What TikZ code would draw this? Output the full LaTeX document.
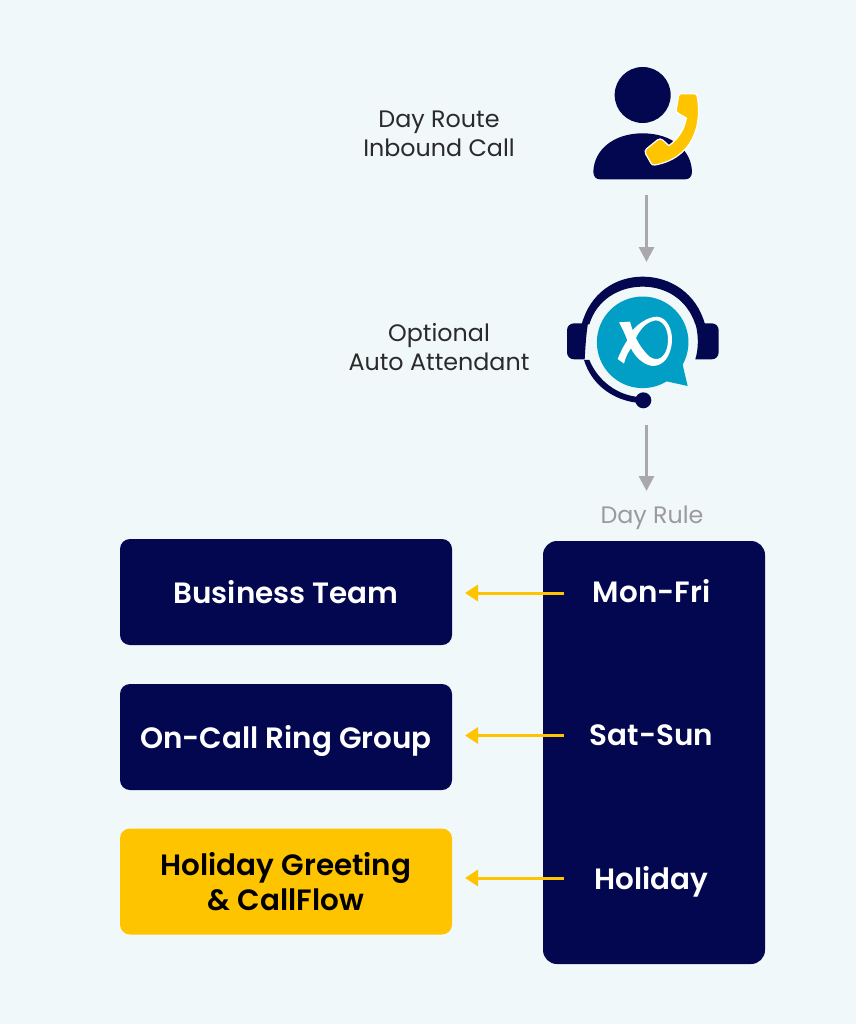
\documentclass[tikz,border=0pt]{standalone}
\usepackage{fontspec}
\setmainfont{Poppins}[BoldFont={Poppins SemiBold}]
\definecolor{bgc}{HTML}{F1F8FA}
\definecolor{navy}{HTML}{03074F}
\definecolor{gold}{HTML}{FFC400}
\definecolor{teal1}{HTML}{019FC6}
\definecolor{grayline}{HTML}{A9A9AD}
\definecolor{graytext}{HTML}{9B9B9B}
\definecolor{ink}{HTML}{2A2A2A}
\usetikzlibrary{arrows.meta}
\tikzset{
  navybox/.style={fill=navy,rounded corners=10pt,minimum width=332pt,minimum height=106pt,text=white,font=\fontsize{29.4}{35}\selectfont\bfseries,align=center,inner sep=0pt},
  goldbox/.style={navybox,fill=gold,text=black},
  dayitem/.style={text=white,font=\fontsize{29.4}{35}\selectfont\bfseries,inner sep=0pt},
  caption/.style={text=ink,font=\fontsize{23.8}{29.5}\selectfont,align=center,inner sep=0pt},
  grayarrow/.style={draw=grayline,line width=3pt,-{Triangle[length=15pt,width=15pt]}},
  goldarrow/.style={draw=gold,line width=3pt,-{Triangle[length=13pt,width=16pt]}},
}
\begin{document}
\begin{tikzpicture}[x=1pt,y=-1pt]
\fill[bgc] (0,0) rectangle (856,1024);
\useasboundingbox (0,0) rectangle (856,1024);
% person icon
\begin{scope}[shift={(550,50)},x=0.3333pt,y=-0.3333pt]
\fill[navy] (278,135) circle[radius=28pt];
\fill[navy] (130,365) .. controls (132,300) and (190,250) .. (278,250)
  .. controls (366,250) and (424,300) .. (426,365)
  .. controls (426,380) and (418,388) .. (405,388) -- (150,388)
  .. controls (138,388) and (130,380) .. (130,365) -- cycle;
\filldraw[fill=gold,draw=white,line width=1.2pt,line join=round]
  (392,131) -- (432,131) .. controls (438,131) and (441,134) .. (442,140)
  .. controls (458,230) and (425,325) .. (315,345)
  .. controls (309,346) and (305,344) .. (303,340) -- (287,312)
  .. controls (284,306) and (285,300) .. (290,296) -- (322,270)
  .. controls (328,266) and (333,266) .. (338,270) -- (357,287)
  .. controls (385,265) and (403,240) .. (409,204) -- (386,191)
  .. controls (380,188) and (378,184) .. (379,178) -- (386,137)
  .. controls (387,133) and (389,131) .. (392,131) -- cycle;
\end{scope}
% caption and arrows
\node[caption] (inbound) at (439,134) {Day Route\\Inbound Call};
\coordinate (call) at (646.5,195);
\coordinate (attendantTop) at (646.5,262);
\draw[grayarrow] (call) -- (attendantTop);
% headset icon
\begin{scope}[shift={(550,265)},x=0.3333pt,y=-0.3333pt]
\fill[teal1] (278,232) circle[radius=45.8pt];
\fill[teal1] (397,295) -- (413,363) -- (345,348) -- cycle;
\fill[navy] (95,178) .. controls (120,85) and (195,35) .. (278,35)
  .. controls (361,35) and (440,85) .. (465,178) -- (436,178)
  .. controls (412,105) and (350,65) .. (278,65)
  .. controls (206,65) and (140,105) .. (118,178) -- cycle;
\fill[navy] (72,175) -- (114,175) .. controls (108,210) and (106,250) .. (104,283) -- (72,283)
  .. controls (60,283) and (51,274) .. (51,262) -- (51,196)
  .. controls (51,184) and (60,175) .. (72,175) -- cycle;
\fill[navy] (485,175) -- (436,175) .. controls (446,210) and (446,250) .. (436,283) -- (485,283)
  .. controls (497,283) and (506,274) .. (506,262) -- (506,196)
  .. controls (506,184) and (497,175) .. (485,175) -- cycle;
\fill[navy] (102,285) .. controls (125,360) and (190,407) .. (268,414)
  -- (268,396) .. controls (205,392) and (145,350) .. (118,285) -- cycle;
\fill[navy] (280,406) circle[radius=8pt];
\fill[white] (207,172) -- (240,170) .. controls (250,205) and (265,245) .. (300,276)
  .. controls (325,292) and (345,275) .. (352,245)
  .. controls (360,205) and (345,168) .. (318,166)
  .. controls (290,170) and (272,190) .. (256,222) -- (246,198)
  .. controls (265,175) and (295,155) .. (322,155)
  .. controls (352,158) and (368,195) .. (366,230)
  .. controls (362,275) and (340,303) .. (308,303)
  .. controls (280,300) and (255,275) .. (243,250)
  .. controls (232,265) and (226,280) .. (222,296) -- (203,282)
  .. controls (212,260) and (222,240) .. (232,226)
  .. controls (224,205) and (216,188) .. (207,172) -- cycle;
\end{scope}
\node[caption] (auto) at (439,347) {Optional\\Auto Attendant};
\coordinate (attendantBottom) at (646.5,425);
\coordinate (ruleTop) at (646.5,491);
\draw[grayarrow] (attendantBottom) -- (ruleTop);
\node[caption,text=graytext,text depth=0pt] (dayrule) at (652,515) {Day Rule};
% boxes
\node[navybox] (business) at (286,592) {Business Team};
\node[navybox,text depth=0pt] (oncall) at (286,737) {On-Call Ring Group};
\node[goldbox] (holidaybox) at (286,881.5) {Holiday Greeting\\\& CallFlow};
\fill[navy,rounded corners=14pt] (543,541) rectangle (765,964);
\node[dayitem] (monfri) at (651.5,591) {Mon-Fri};
\node[dayitem] (satsun) at (651.5,735) {Sat-Sun};
\node[dayitem,text depth=0pt] (holiday) at (651.5,878) {Holiday};
\coordinate (a1) at (564,593);
\coordinate (a2) at (564,735.5);
\coordinate (a3) at (564,878);
\draw[goldarrow] (a1) -- (465,593);
\draw[goldarrow] (a2) -- (465,735.5);
\draw[goldarrow] (a3) -- (465,878);
\end{tikzpicture}
\end{document}
